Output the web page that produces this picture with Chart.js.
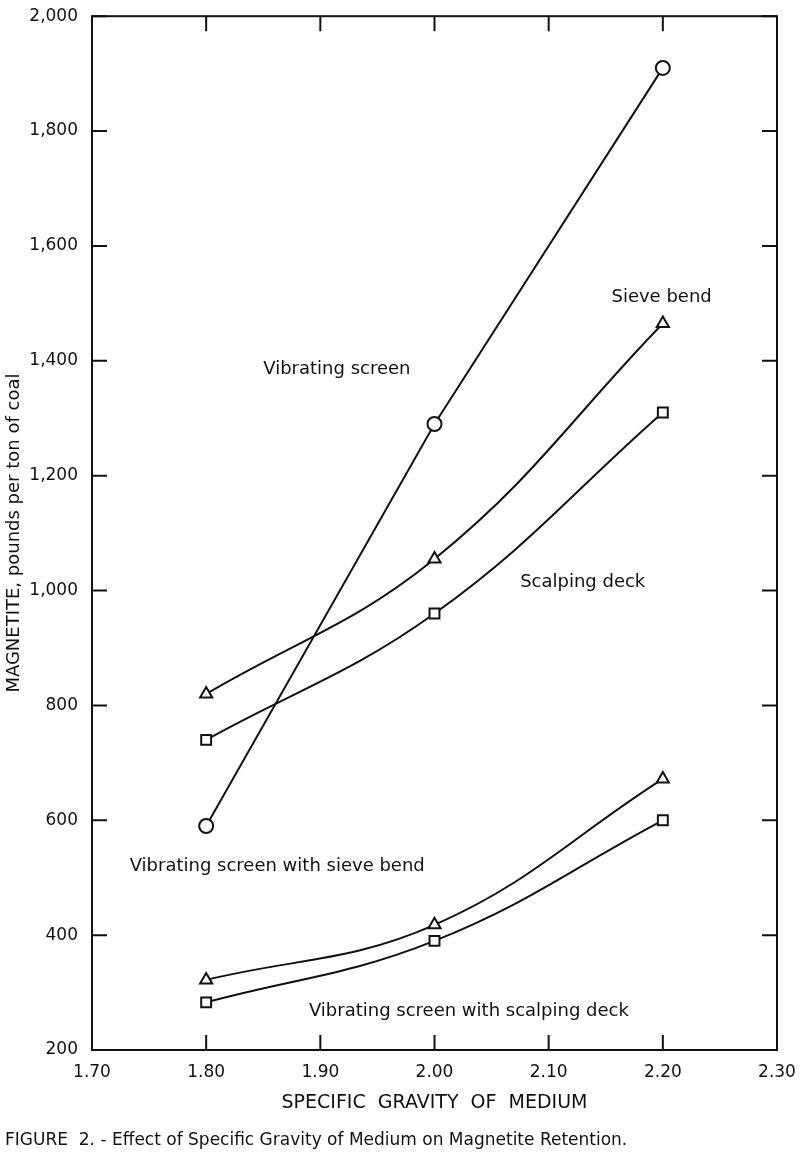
<!DOCTYPE html>
<html><head><meta charset="utf-8">
<script src="https://cdn.jsdelivr.net/npm/chart.js@4/dist/chart.umd.min.js"></script>
<style>html,body{margin:0;padding:0;background:#fff}#w{width:800px;height:1165px}</style>
</head><body><div id="w"><canvas id="c"></canvas></div>
<script>
const gravity = [1.80, 2.00, 2.20];
const vibratingScreen = [590, 1290, 1910];
const sieveBend = [820, 1055, 1465];
const scalpingDeck = [740, 960, 1310];
const vsSieveBend = [322, 418, 672];
const vsScalpingDeck = [283, 390, 600];
const xTicks = [1.70, 1.80, 1.90, 2.00, 2.10, 2.20, 2.30];
const xTickLabels = ["1.70","1.80","1.90","2.00","2.10","2.20","2.30"];
const yTicks = [200,400,600,800,1000,1200,1400,1600,1800,2000];
const yTickLabels = ["200","400","600","800","1,000","1,200","1,400","1,600","1,800","2,000"];
const notes = [
  {text:"Vibrating screen", x:1.85, y:1385},
  {text:"Sieve bend", x:2.155, y:1510},
  {text:"Scalping deck", x:2.075, y:1015},
  {text:"Vibrating screen with sieve bend", x:1.733, y:520},
  {text:"Vibrating screen with scalping deck", x:1.89, y:268}
];
const FONT = '"DejaVu Sans", sans-serif';
function ds(data, style, tension){
  return {data: gravity.map((g,i)=>({x:g,y:data[i]})), borderColor:'#111', borderWidth:2,
    pointStyle:style, pointRadius:7, pointBorderWidth:2, pointBackgroundColor:'#fff', pointBorderColor:'#111',
    tension:tension, fill:false};
}
const deco = {
  id:'deco',
  afterDraw(ch){
    const c=ch.ctx, a=ch.chartArea, xs=ch.scales.x, ys=ch.scales.y;
    c.save(); c.strokeStyle='#111'; c.lineWidth=2;
    c.strokeRect(a.left,a.top,a.right-a.left,a.bottom-a.top);
    const L=15;
    c.beginPath();
    xTicks.forEach(v=>{const p=xs.getPixelForValue(v); c.moveTo(p,a.bottom); c.lineTo(p,a.bottom-L); c.moveTo(p,a.top); c.lineTo(p,a.top+L);});
    yTicks.forEach(v=>{const p=ys.getPixelForValue(v); c.moveTo(a.left,p); c.lineTo(a.left+L,p); c.moveTo(a.right,p); c.lineTo(a.right-L,p);});
    c.stroke();
    c.fillStyle='#111';
    c.font='18px '+FONT; c.textBaseline='middle'; c.textAlign='left';
    notes.forEach(n=>c.fillText(n.text, xs.getPixelForValue(n.x), ys.getPixelForValue(n.y)));
    c.textAlign='center';
    c.font='19px '+FONT;
    c.fillText('SPECIFIC  GRAVITY  OF  MEDIUM', (a.left+a.right)/2, 1103);
    c.font='17px '+FONT; c.textAlign='left';
    c.fillText('FIGURE  2. - Effect of Specific Gravity of Medium on Magnetite Retention.', 5, 1141);
    c.translate(14,(a.top+a.bottom)/2); c.rotate(-Math.PI/2); c.textAlign='center';
    c.font='18px '+FONT;
    c.fillText('MAGNETITE, pounds per ton of coal',0,0);
    c.restore();
  }
};
new Chart(document.getElementById('c'),{
  type:'line',
  data:{datasets:[ds(vibratingScreen,'circle',0), ds(sieveBend,'triangle',0.4), ds(scalpingDeck,'rect',0.4), ds(vsSieveBend,'triangle',0.4), ds(vsScalpingDeck,'rect',0.4)]},
  options:{responsive:true, maintainAspectRatio:false, animation:false,
    layout:{padding:{top:-6,right:23,bottom:85,left:0}},
    plugins:{legend:{display:false},tooltip:{enabled:false}},
    scales:{
      x:{type:'linear',min:1.70,max:2.30,border:{display:false},grid:{display:false},
        afterBuildTicks(s){s.ticks=xTicks.map(v=>({value:v}));},
        afterFit(s){s.height=30;},
        ticks:{color:'#111',font:{size:17,family:FONT},padding:4,maxRotation:0,callback:(v,i)=>xTickLabels[i]}},
      y:{min:200,max:2000,border:{display:false},grid:{display:false},
        afterBuildTicks(s){s.ticks=yTicks.map(v=>({value:v}));},
        afterFit(s){s.width=92;},
        ticks:{color:'#111',font:{size:17,family:FONT},padding:6,callback:(v,i)=>yTickLabels[i]}}
    }},
  plugins:[deco]
});
</script></body></html>
